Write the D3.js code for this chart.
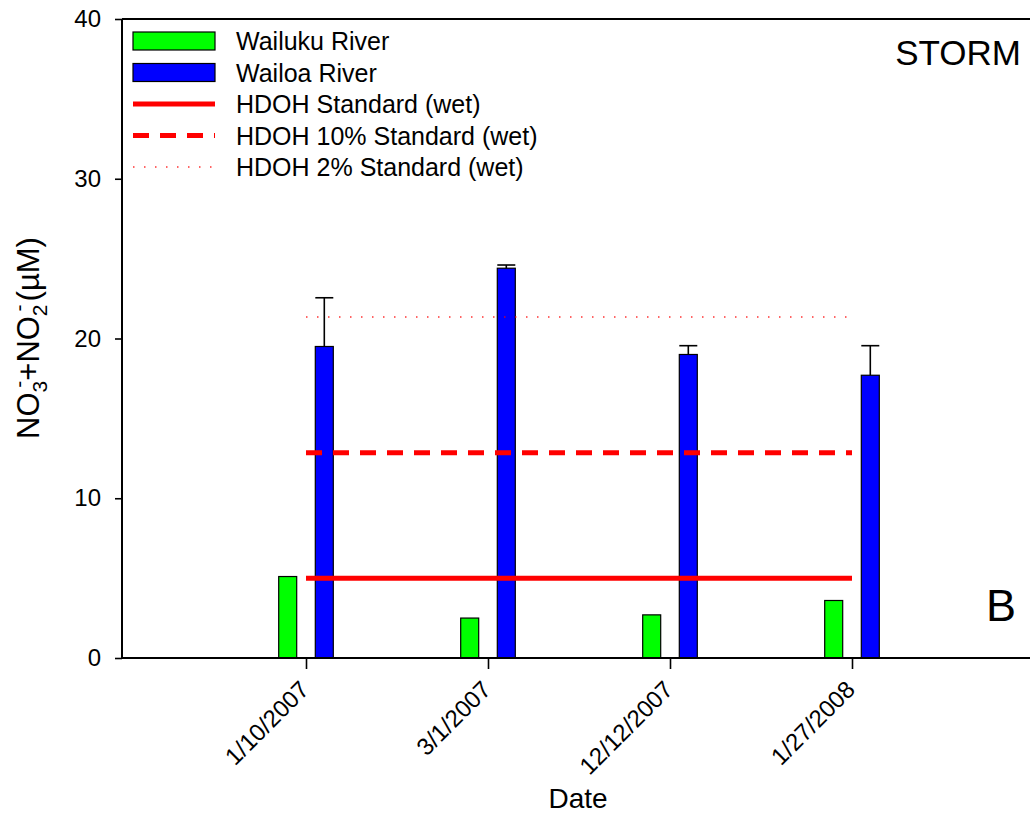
<!DOCTYPE html>
<html>
<head>
<meta charset="utf-8">
<script src="https://cdn.jsdelivr.net/npm/d3@7"></script>
<style>
  body { margin: 0; background: #fff; }
  text { font-family: "Liberation Sans", Arial, sans-serif; fill: #000; }
</style>
</head>
<body>
<div id="chart"></div>
<script>
// Data
const dates = ["1/10/2007", "3/1/2007", "12/12/2007", "1/27/2008"]
const wailuku = [5.1, 2.5, 2.7, 3.6]
const wailoa = [19.5, 24.4, 19.0, 17.7]
const wailoaErr = [3.05, 0.2, 0.55, 1.85]
const yTicks = [0, 10, 20, 30, 40]
const standards = [
    {name: "HDOH Standard (wet)", value: 5.0, dash: null, width: 5, opacity: 1},
    {name: "HDOH 10% Standard (wet)", value: 12.85, dash: "16,11", width: 5, opacity: 1},
    {name: "HDOH 2% Standard (wet)", value: 21.35, dash: "1.5,9.5", width: 2, opacity: 0.6},
]

function drawChart() {
    const dimensions = {
        width: 1030,
        height: 814,
        left: 122,
        top: 19,
        bottom: 658,
    }

    const svg = d3.select("#chart")
        .append("svg")
            .attr("width", dimensions.width)
            .attr("height", dimensions.height)

  // Scales
    const xScale = d3.scaleLinear()
        .domain([0, 5])
        .range([124, 1034])
    const yScale = d3.scaleLinear()
        .domain([0, 40])
        .range([dimensions.bottom, dimensions.top])

    const barWidth = 18
    const barOffset = 18.3

  // Bars
    const drawBars = (values, color, sign) => {
        svg.append("g")
            .selectAll("rect")
            .data(values)
            .enter()
            .append("rect")
                .attr("x", (d, i) => xScale(i + 1) + sign * barOffset - barWidth / 2)
                .attr("y", d => yScale(d))
                .attr("width", barWidth)
                .attr("height", d => yScale(0) - yScale(d))
                .attr("fill", color)
                .attr("stroke", "#000")
                .attr("stroke-width", 1.2)
    }
    drawBars(wailuku, "#00ff00", -1)
    drawBars(wailoa, "#0000ff", 1)

  // Error bars (upper only)
    const errG = svg.append("g")
        .attr("stroke", "#000")
        .attr("stroke-width", 1.6)
    wailoa.forEach((d, i) => {
        const cx = xScale(i + 1) + barOffset
        errG.append("line")
            .attr("x1", cx).attr("x2", cx)
            .attr("y1", yScale(d)).attr("y2", yScale(d + wailoaErr[i]))
        errG.append("line")
            .attr("x1", cx - barWidth / 2).attr("x2", cx + barWidth / 2)
            .attr("y1", yScale(d + wailoaErr[i])).attr("y2", yScale(d + wailoaErr[i]))
    })

  // Standard lines
    standards.forEach(s => {
        svg.append("line")
            .attr("x1", xScale(1))
            .attr("x2", xScale(4))
            .attr("y1", yScale(s.value))
            .attr("y2", yScale(s.value))
            .attr("stroke", "#ff0000")
            .attr("stroke-width", s.width)
            .attr("stroke-dasharray", s.dash)
            .attr("opacity", s.opacity)
    })

  // Axes
    const yAxis = svg.append("g")
        .attr("transform", `translate(${dimensions.left},0)`)
        .call(d3.axisLeft(yScale).tickValues(yTicks).tickSize(7).tickPadding(14))
    yAxis.select(".domain").remove()
    yAxis.selectAll(".tick line").attr("stroke-width", 1.6)
    yAxis.selectAll("text")
        .style("font-size", "24px")
        .style("font-family", "'Liberation Sans', Arial, sans-serif")

    svg.append("line")
        .attr("x1", dimensions.left).attr("x2", dimensions.left)
        .attr("y1", dimensions.top).attr("y2", dimensions.bottom)
        .attr("stroke", "#000").attr("stroke-width", 2)
    svg.append("line")
        .attr("x1", dimensions.left).attr("x2", dimensions.width)
        .attr("y1", dimensions.top).attr("y2", dimensions.top)
        .attr("stroke", "#000").attr("stroke-width", 2)

    const xAxis = svg.append("g")
        .attr("transform", `translate(0,${dimensions.bottom})`)
        .call(d3.axisBottom(xScale).tickValues([1, 2, 3, 4]).tickSize(11).tickFormat(d => dates[d - 1]))
    xAxis.select(".domain").remove()
    xAxis.selectAll(".tick line").attr("stroke-width", 1.6)
    xAxis.selectAll("text")
        .attr("y", 0)
        .attr("dy", 0)
        .attr("text-anchor", "end")
        .attr("transform", "translate(4,33) rotate(-45)")
        .style("font-size", "24px")
        .style("font-family", "'Liberation Sans', Arial, sans-serif")

    svg.append("line")
        .attr("x1", dimensions.left).attr("x2", dimensions.width)
        .attr("y1", dimensions.bottom).attr("y2", dimensions.bottom)
        .attr("stroke", "#000").attr("stroke-width", 2)

  // Axis titles
    svg.append("text")
        .attr("x", 578)
        .attr("y", 808)
        .attr("text-anchor", "middle")
        .style("font-size", "28px")
        .text("Date")

    const yTitle = svg.append("text")
        .attr("transform", "translate(39,338) rotate(-90)")
        .attr("text-anchor", "middle")
        .style("font-size", "31px")
    yTitle.append("tspan").text("NO")
    yTitle.append("tspan").attr("dy", 8).style("font-size", "21px").text("3")
    yTitle.append("tspan").attr("dx", -7).attr("dy", -21).style("font-size", "21px").text("-")
    yTitle.append("tspan").attr("dy", 13).text("+NO")
    yTitle.append("tspan").attr("dy", 8).style("font-size", "21px").text("2")
    yTitle.append("tspan").attr("dx", -7).attr("dy", -21).style("font-size", "21px").text("-")
    yTitle.append("tspan").attr("dx", 3).attr("dy", 13).text("(\u00b5M)")

  // Legend
    const legend = svg.append("g")
    const legendX = 133
    const legendW = 82
    const rowY = [41, 72.5, 104, 135.5, 167]
    const swatches = [
        {name: "Wailuku River", color: "#00ff00"},
        {name: "Wailoa River", color: "#0000ff"},
    ]
    swatches.forEach((s, i) => {
        legend.append("rect")
            .attr("x", legendX)
            .attr("y", rowY[i] - 9)
            .attr("width", legendW)
            .attr("height", 18)
            .attr("fill", s.color)
            .attr("stroke", "#000")
            .attr("stroke-width", 1.2)
    })
    standards.forEach((s, i) => {
        legend.append("line")
            .attr("x1", legendX).attr("x2", legendX + legendW)
            .attr("y1", rowY[i + 2]).attr("y2", rowY[i + 2])
            .attr("stroke", "#ff0000")
            .attr("stroke-width", s.width)
            .attr("stroke-dasharray", s.dash)
            .attr("opacity", s.opacity)
    })
    const names = swatches.map(s => s.name).concat(standards.map(s => s.name))
    names.forEach((n, i) => {
        legend.append("text")
            .attr("x", 236)
            .attr("y", rowY[i] + 9)
            .style("font-size", "25px")
            .text(n)
    })

  // Annotations
    svg.append("text")
        .attr("x", 1021)
        .attr("y", 65)
        .attr("text-anchor", "end")
        .style("font-size", "35px")
        .text("STORM")
    svg.append("text")
        .attr("x", 1001)
        .attr("y", 621)
        .attr("text-anchor", "middle")
        .style("font-size", "45px")
        .text("B")
}

drawChart()
</script>
</body>
</html>
